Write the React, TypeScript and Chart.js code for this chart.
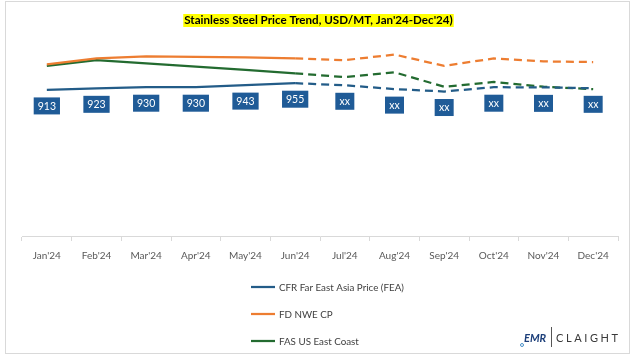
import React, { useEffect, useRef } from "react";
import { Chart, registerables } from "chart.js";

Chart.register(...registerables);

const categories = ["Jan'24", "Feb'24", "Mar'24", "Apr'24", "May'24", "Jun'24", "Jul'24", "Aug'24", "Sep'24", "Oct'24", "Nov'24", "Dec'24"];
const feaValues = [913, 923, 930, 930, 943, 955, 942, 918, 903, 930, 929, 923];
const nweValues = [1073, 1110, 1123, 1120, 1116, 1110, 1099, 1134, 1063, 1110, 1091, 1087];
const fasValues = [1063, 1099, 1079, 1059, 1039, 1017, 993, 1023, 933, 963, 933, 918];
const feaLabels = ["913", "923", "930", "930", "943", "955", "xx", "xx", "xx", "xx", "xx", "xx"];
const seriesNames = ["CFR Far East Asia Price (FEA)", "FD NWE CP", "FAS US East Coast"];
const titleText = "Stainless Steel Price Trend, USD/MT, Jan'24-Dec'24)";
const lastActualIndex = 5;

const COLORS = ["#235C88", "#ED7D31", "#236B30"];
const FONT = "Lato, 'Open Sans', sans-serif";

const decorPlugin = {
  id: "decor",
  afterDatasetsDraw(chart: any) {
    const ctx = chart.ctx;
    const meta = chart.getDatasetMeta(0);
    ctx.save();
    ctx.font = `10.5px ${FONT}`;
    ctx.textAlign = "center";
    ctx.textBaseline = "middle";
    meta.data.forEach((pt: any, i: number) => {
      const txt = feaLabels[i];
      const w = Math.max(19, ctx.measureText(txt).width + 8);
      const h = 17;
      const cy = pt.y + 16;
      ctx.fillStyle = "#1F5B97";
      ctx.fillRect(pt.x - w / 2, cy - h / 2, w, h);
      ctx.fillStyle = "#ffffff";
      ctx.fillText(txt, pt.x, cy + 0.5);
    });
    ctx.restore();
  },
  afterDraw(chart: any) {
    const ctx = chart.ctx;
    ctx.save();
    // border
    ctx.strokeStyle = "#d9d9d9";
    ctx.lineWidth = 1;
    ctx.strokeRect(5.5, 1.5, 624, 352);

    // title with highlight
    ctx.font = `bold 11.6px ${FONT}`;
    const tw = ctx.measureText(titleText).width;
    const cx = 318.5;
    ctx.fillStyle = "#FFFF00";
    ctx.fillRect(cx - tw / 2 - 1, 14, tw + 2, 13);
    ctx.fillStyle = "#000000";
    ctx.textAlign = "center";
    ctx.textBaseline = "middle";
    ctx.fillText(titleText, cx, 20.5);

    // legend
    const rows = [287, 314, 341];
    ctx.font = `9.8px ${FONT}`;
    ctx.textAlign = "left";
    seriesNames.forEach((name, i) => {
      ctx.strokeStyle = COLORS[i];
      ctx.lineWidth = 2.25;
      ctx.beginPath();
      ctx.moveTo(251, rows[i]);
      ctx.lineTo(275, rows[i]);
      ctx.stroke();
      ctx.fillStyle = "#404040";
      ctx.fillText(name, 279, rows[i] + 0.5);
    });

    // logo
    ctx.textBaseline = "alphabetic";
    ctx.fillStyle = "#1D3F7A";
    ctx.font = `italic bold 11px ${FONT}`;
    ctx.fillText("EMR", 524, 342);
    ctx.strokeStyle = "#4a90c8";
    ctx.lineWidth = 1;
    ctx.beginPath();
    ctx.arc(522, 345, 1.5, 0, Math.PI * 2);
    ctx.stroke();
    ctx.strokeStyle = "#555555";
    ctx.beginPath();
    ctx.moveTo(551.5, 327);
    ctx.lineTo(551.5, 347);
    ctx.stroke();
    ctx.fillStyle = "#3a3a3a";
    ctx.font = `11px ${FONT}`;
    (ctx as any).letterSpacing = "2.6px";
    ctx.fillText("CLAIGHT", 556, 342);
    ctx.restore();
  },
};

const dashSeg = {
  borderDash: (c: any) => (c.p0DataIndex >= lastActualIndex ? [8, 5] : undefined),
};

export default function App() {
  const canvasRef = useRef<HTMLCanvasElement | null>(null);

  useEffect(() => {
    document.body.style.margin = "0";
    const canvas = canvasRef.current;
    if (!canvas) return;
    const chart = new Chart(canvas, {
      type: "line",
      data: {
        labels: categories,
        datasets: [
          { label: seriesNames[0], data: feaValues, borderColor: COLORS[0], borderWidth: 2.25, pointRadius: 0, tension: 0, segment: dashSeg },
          { label: seriesNames[1], data: nweValues, borderColor: COLORS[1], borderWidth: 2.25, pointRadius: 0, tension: 0, segment: dashSeg },
          { label: seriesNames[2], data: fasValues, borderColor: COLORS[2], borderWidth: 2.25, pointRadius: 0, tension: 0, segment: dashSeg },
        ],
      },
      options: {
        responsive: false,
        animation: false,
        layout: { padding: { left: 22, right: 16, top: 44, bottom: 87 } },
        plugins: {
          legend: { display: false },
          title: { display: false },
          tooltip: { enabled: false },
        },
        scales: {
          x: {
            offset: true,
            grid: { display: true, drawOnChartArea: false, drawTicks: true, tickLength: 5, color: "#d9d9d9", offset: true },
            border: { display: true, color: "#d9d9d9" },
            ticks: { color: "#595959", font: { family: FONT, size: 10 }, padding: 9, maxRotation: 0, autoSkip: false },
          },
          y: { display: false, min: 0, max: 1200 },
        },
      },
      plugins: [decorPlugin],
    });
    return () => chart.destroy();
  }, []);

  return (
    <div style={{ position: "relative", width: 634, height: 358, background: "#ffffff" }}>
      <canvas ref={canvasRef} width={634} height={358} style={{ display: "block" }} />
    </div>
  );
}
